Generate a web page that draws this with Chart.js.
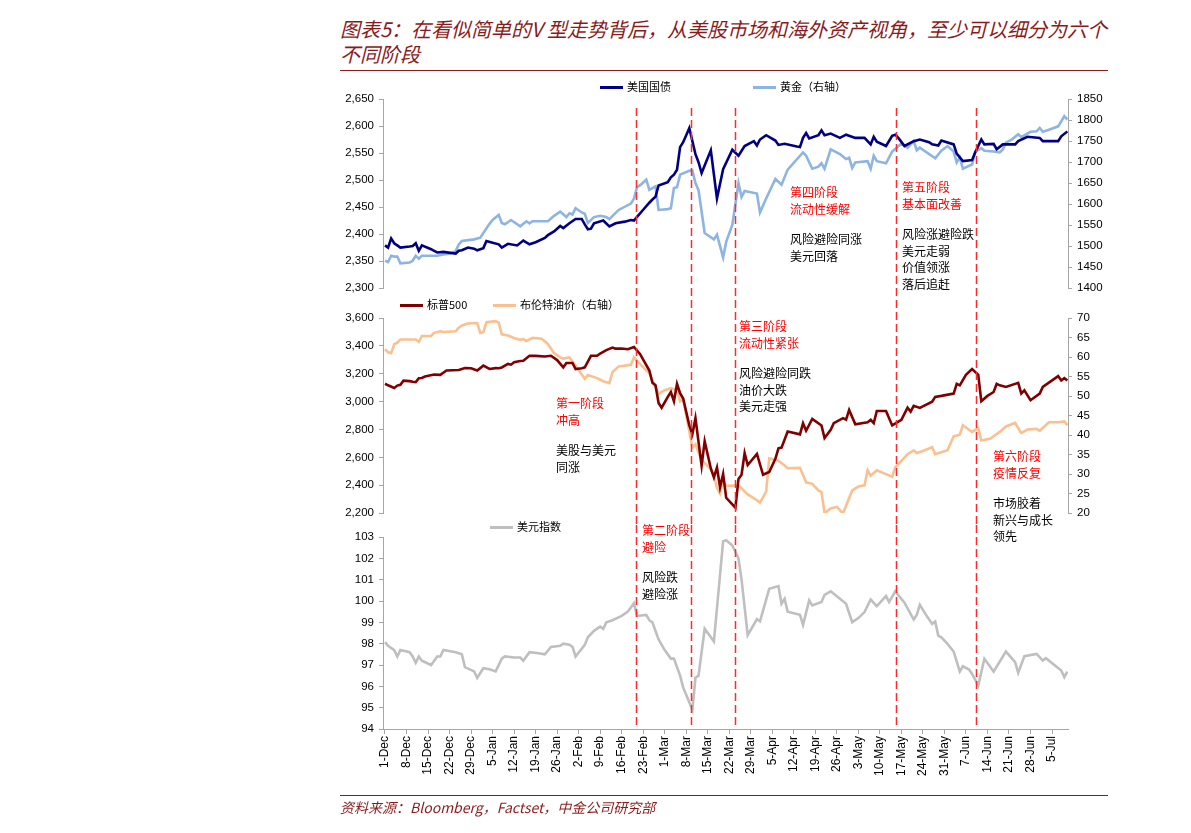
<!DOCTYPE html>
<html><head><meta charset="utf-8">
<script src="https://cdn.jsdelivr.net/npm/chart.js@4.4.1/dist/chart.umd.min.js"></script>
<style>
body{margin:0;background:#fff;width:1191px;height:833px;position:relative;overflow:hidden;font-family:"Noto Sans CJK SC","Liberation Sans",sans-serif;}
.box{position:absolute;left:0;width:1191px;}
.title{position:absolute;left:340px;top:16px;font-size:20px;line-height:25px;color:#8B1A1A;font-style:italic;white-space:nowrap;}
.rule{position:absolute;left:340px;width:768px;height:0;border-top:1.5px solid #8B1A1A;}
.src{position:absolute;left:340px;top:797px;font-size:14px;color:#8B1A1A;font-style:italic;white-space:nowrap;}
.lg{position:absolute;font-size:11px;line-height:14px;color:#000;white-space:nowrap;}
.lg i{display:inline-block;width:23px;height:3px;vertical-align:middle;margin-right:4px;position:relative;top:-1px;}
.ann{position:absolute;font-size:12px;line-height:16.5px;white-space:nowrap;}
.red{color:#FF0000;}
.blk{color:#000;}
</style></head>
<body>
<div class="title">图表5：在看似简单的V 型走势背后，从美股市场和海外资产视角，至少可以细分为六个<br>不同阶段</div>
<div class="rule" style="top:70px"></div>
<div class="box" style="top:75px;height:225px"><canvas id="k1"></canvas></div>
<div class="box" style="top:300px;height:225px"><canvas id="k2"></canvas></div>
<div class="box" style="top:525px;height:275px"><canvas id="k3"></canvas></div>
<div class="rule" style="top:795px"></div>
<div class="src">资料来源：Bloomberg，Factset，中金公司研究部</div>

<div class="lg" style="left:600px;top:79px"><i style="background:#000080"></i>美国国债</div>
<div class="lg" style="left:753px;top:79px"><i style="background:#8DB4E2"></i>黄金（右轴）</div>
<div class="lg" style="left:400px;top:297px"><i style="background:#800000"></i>标普500</div>
<div class="lg" style="left:493px;top:297px"><i style="background:#FAC090"></i>布伦特油价（右轴）</div>
<div class="lg" style="left:490px;top:519px"><i style="background:#BFBFBF"></i>美元指数</div>

<div class="ann" style="left:556px;top:395px"><div class="red">第一阶段<br>冲高</div><div class="blk" style="margin-top:14px">美股与美元<br>同涨</div></div>
<div class="ann" style="left:642px;top:522px"><div class="red">第二阶段<br>避险</div><div class="blk" style="margin-top:14px">风险跌<br>避险涨</div></div>
<div class="ann" style="left:739px;top:318px"><div class="red">第三阶段<br>流动性紧张</div><div class="blk" style="margin-top:14px">风险避险同跌<br>油价大跌<br>美元走强</div></div>
<div class="ann" style="left:790px;top:184px"><div class="red">第四阶段<br>流动性缓解</div><div class="blk" style="margin-top:14px">风险避险同涨<br>美元回落</div></div>
<div class="ann" style="left:902px;top:179px"><div class="red">第五阶段<br>基本面改善</div><div class="blk" style="margin-top:14px">风险涨避险跌<br>美元走弱<br>价值领涨<br>落后追赶</div></div>
<div class="ann" style="left:993px;top:448px"><div class="red">第六阶段<br>疫情反复</div><div class="blk" style="margin-top:14px">市场胶着<br>新兴与成长<br>领先</div></div>

<script>
// ---- data (x = days since 1-Dec-2019) ----
const weekTicks = [0,7,14,21,28,35,42,49,56,63,70,77,84,91,98,105,112,119,126,133,140,147,154,161,168,175,182,189,196,203,210,217];
const weekLabels = ['1-Dec','8-Dec','15-Dec','22-Dec','29-Dec','5-Jan','12-Jan','19-Jan','26-Jan','2-Feb','9-Feb','16-Feb','23-Feb','1-Mar','8-Mar','15-Mar','22-Mar','29-Mar','5-Apr','12-Apr','19-Apr','26-Apr','3-May','10-May','17-May','24-May','31-May','7-Jun','14-Jun','21-Jun','28-Jun','5-Jul'];
const phaseDays = [81.6, 99.7, 113.8, 166.2, 192.4];

const treasuryDays = [0,1,2,3,4,5,8,9,10,11,12,15,16,17,19,23,24,25,27,29,30,32,33,35,37,38,40,43,45,47,49,52,53,55,57,58,60,62,64,65,66,67,68,71,73,75,78,80,81,82,84,86,87,88,89,92,93,94,95,96,97,99,101,102,103,106,108,110,113,115,117,120,121,122,124,127,128,130,134,135,136,137,138,141,142,143,145,148,150,153,156,158,159,160,163,165,166,167,169,172,174,177,178,180,181,185,186,188,191,192,194,195,198,199,201,205,206,209,213,214,219,220,222];
const treasuryVals = [2379,2375,2392,2383,2379,2375,2377,2378,2383,2369,2379,2372,2369,2366,2367,2364,2369,2370,2375,2373,2370,2374,2387,2384,2381,2375,2382,2379,2388,2381,2385,2393,2398,2405,2415,2411,2420,2428,2428,2418,2409,2410,2420,2425,2414,2420,2423,2426,2425,2432,2445,2458,2464,2469,2490,2496,2505,2510,2519,2561,2570,2596,2548,2533,2513,2555,2466,2520,2556,2545,2563,2572,2564,2575,2583,2573,2565,2567,2562,2561,2578,2587,2577,2583,2592,2583,2586,2578,2584,2578,2578,2566,2580,2571,2563,2582,2584,2578,2563,2572,2575,2570,2566,2564,2573,2566,2549,2535,2537,2551,2575,2566,2567,2557,2566,2566,2572,2580,2578,2572,2572,2581,2590];

const goldDays = [0,1,2,3,4,5,8,9,10,11,12,17,19,21,23,24,25,29,31,32,34,35,37,38,39,41,44,46,47,48,53,55,57,59,60,61,62,64,65,66,68,70,72,73,76,80,81,82,83,85,86,88,89,92,93,94,95,96,99,100,101,102,104,107,108,110,111,113,115,116,117,121,122,124,127,129,131,136,137,139,141,142,143,145,148,150,151,152,153,157,158,159,160,163,165,168,170,172,173,174,179,181,183,185,186,187,188,191,192,194,195,198,200,201,202,204,206,207,210,212,213,214,216,219,221,222];
const goldVals = [1465,1462,1477,1475,1475,1459,1461,1465,1477,1470,1477,1477,1480,1482,1488,1504,1512,1516,1520,1531,1553,1562,1574,1555,1552,1562,1547,1559,1554,1559,1559,1572,1582,1569,1578,1575,1590,1580,1577,1555,1569,1572,1569,1564,1586,1601,1613,1640,1645,1658,1634,1642,1586,1588,1590,1638,1640,1670,1679,1680,1650,1633,1531,1516,1527,1473,1510,1551,1650,1617,1631,1625,1580,1613,1660,1646,1682,1723,1715,1684,1689,1697,1684,1730,1719,1707,1710,1686,1699,1702,1684,1715,1702,1697,1725,1744,1734,1750,1728,1734,1709,1727,1738,1725,1699,1711,1684,1694,1725,1733,1727,1725,1723,1730,1746,1754,1766,1759,1772,1773,1781,1772,1777,1785,1809,1801];

const spxDays = [0,1,3,4,5,6,8,9,10,11,12,13,16,18,20,24,26,28,30,32,34,36,37,38,40,41,42,44,45,47,49,52,54,56,58,59,61,62,64,65,67,69,70,72,74,75,77,79,81,83,86,87,88,89,90,92,93,94,95,96,97,99,100,101,103,104,106,107,108,109,110,111,114,115,116,117,118,121,123,125,127,128,129,131,135,136,137,139,142,143,145,146,149,150,151,153,157,158,159,160,163,165,168,170,171,172,174,178,179,181,185,186,187,189,191,193,194,196,198,199,200,202,206,207,208,210,213,214,219,220,221,222];
const spxVals = [3128,3117,3098,3115,3121,3150,3147,3142,3140,3168,3170,3180,3194,3192,3223,3227,3241,3239,3223,3258,3234,3240,3239,3245,3270,3265,3282,3291,3293,3329,3328,3324,3329,3298,3246,3277,3277,3234,3240,3246,3329,3329,3345,3370,3388,3380,3381,3376,3392,3340,3223,3135,3117,2990,2956,3034,3069,3003,3128,3060,3022,2830,2767,2881,2540,2716,2520,2456,2527,2386,2480,2310,2239,2445,2475,2630,2545,2625,2475,2495,2590,2665,2670,2786,2765,2845,2791,2876,2829,2739,2798,2845,2881,2870,2940,2838,2852,2869,2845,2933,2933,2829,2869,2956,2928,2970,2955,2999,3034,3041,3058,3128,3117,3192,3234,3192,3003,3041,3069,3128,3117,3105,3135,3058,3081,3010,3058,3105,3183,3152,3168,3152];

const brentDays = [0,1,2,3,4,5,10,11,12,15,16,18,19,23,24,25,27,30,31,32,33,36,37,38,40,42,44,45,46,48,51,53,55,57,58,60,62,65,66,69,71,73,74,76,80,81,83,86,89,91,93,95,96,97,100,101,103,106,107,108,109,110,111,115,118,121,122,124,125,128,130,131,135,137,139,141,142,143,145,147,149,152,154,156,157,158,160,163,165,166,168,170,172,173,175,178,179,183,185,187,188,191,193,194,197,198,200,202,205,207,209,212,213,216,219,221,222];
const brentVals = [62,61.2,61,63.3,63.7,64.5,64.5,63.9,65.4,65.4,66.2,66.6,66.4,66.6,67.5,68.1,68.6,68.7,66.2,66.4,68.9,69.2,68.8,65.8,65.5,64.9,64.4,64.6,64.1,64.9,64.7,63.3,61,59.9,59.6,59.9,57.8,54.4,55.4,54.6,53.8,53.3,56.1,57.6,58,59.9,58.2,55.8,50.6,51.5,52,51.5,48.7,49.2,36.8,37.6,33.6,31.3,29.6,26.5,25,28.4,27,27.1,24.8,23.3,22.7,25.5,34,33.4,32.2,31.5,31.6,27.9,27.5,25.8,25.4,20,21.2,21.6,19.9,25.8,26.8,27.1,31,29.6,31,30,29.3,31.7,33.4,35.1,36.1,35.4,35.9,36.9,35.1,36.1,39.7,40.1,42.5,40.8,41.8,38.6,39.1,39.7,40.8,42.2,43.1,40.5,41.4,41.6,41.1,43.3,43.3,43.5,42.5];

const dxyDays = [0,1,3,4,5,8,9,10,11,12,15,17,18,19,23,25,26,29,30,32,34,36,38,39,42,44,45,47,50,52,54,57,58,60,61,62,65,66,68,70,71,72,74,77,79,81,82,85,86,87,89,91,93,94,96,97,100,101,102,104,107,110,111,113,115,116,118,121,122,125,128,129,130,131,135,136,138,139,142,143,145,146,150,152,154,156,158,160,163,164,166,169,172,173,174,176,178,179,180,181,183,185,187,188,190,191,193,195,198,202,205,206,208,212,214,215,220,221,222];
const dxyVals = [98.07,97.9,97.7,97.4,97.7,97.6,97.4,97.1,97.4,97.2,97.0,97.4,97.4,97.7,97.6,97.5,96.9,96.7,96.4,96.85,96.8,96.7,97.3,97.4,97.35,97.35,97.2,97.6,97.55,97.5,97.85,97.9,98.0,97.95,97.85,97.4,97.95,98.3,98.6,98.8,98.7,99.0,99.1,99.3,99.5,99.9,99.3,99.35,99.1,99.0,98.2,97.7,97.3,97.3,96.5,95.95,94.9,96.4,96.5,98.7,98.1,102.8,102.85,102.6,102.0,101.0,98.4,99.15,99.05,100.57,100.7,99.87,100.1,99.5,99.35,98.88,100.03,99.79,99.95,100.29,100.45,100.34,99.87,99.01,99.2,99.48,100.07,99.76,100.23,99.95,100.45,99.92,99.13,99.35,99.82,99.35,98.93,99.04,98.38,98.3,97.99,97.63,96.69,96.94,96.79,96.58,96.04,97.29,96.69,97.63,97.13,96.63,97.41,97.52,97.21,97.32,96.74,96.43,96.69];

// ---- helpers ----
const pts = (d, v) => d.map((x, i) => ({x, y: v[i]}));
const X_MIN = -0.65, X_MAX = 222.2;
const CANVAS_W = 1191, AXIS_L = 383, AXIS_R = 1068;
const numFont = {family: 'Liberation Sans, Arial, sans-serif', size: 11.5};
const axisGray = '#A6A6A6';

function yAxis(pos, min, max, step, fmt) {
  return {
    position: pos, min, max,
    ticks: {stepSize: step, color: '#000', font: numFont, padding: 5, callback: fmt},
    grid: {drawOnChartArea: false, drawTicks: true, tickLength: 4, color: axisGray},
    border: {display: true, color: axisGray, width: 1},
    afterFit: s => { s.width = pos === 'left' ? AXIS_L : CANVAS_W - AXIS_R; }
  };
}
const comma = v => v.toLocaleString('en-US');
const plain = v => String(v);

function phasePlugin(topY, toAxis) {
  return {
    id: 'phases',
    afterDatasetsDraw(chart) {
      const {ctx, scales: {x}, chartArea} = chart;
      const bottom = toAxis ? chartArea.bottom : chart.height;
      ctx.save();
      ctx.strokeStyle = '#FF2A2A';
      ctx.lineWidth = 1.5;
      ctx.setLineDash([8, 4]);
      phaseDays.forEach(d => {
        const px = Math.round(x.getPixelForValue(d)) + 0.5;
        ctx.beginPath(); ctx.moveTo(px, topY); ctx.lineTo(px, bottom); ctx.stroke();
      });
      ctx.restore();
    }
  };
}

function lineDs(label, d, v, color, axis) {
  return {label, data: pts(d, v), borderColor: color, backgroundColor: color, borderWidth: 2.6,
    pointRadius: 0, tension: 0, yAxisID: axis};
}

const common = {
  responsive: true, maintainAspectRatio: false, animation: false,
  plugins: {legend: {display: false}, tooltip: {enabled: false}},
  events: []
};
const hiddenX = {type: 'linear', display: false, min: X_MIN, max: X_MAX};

new Chart(document.getElementById('k1'), {
  type: 'line',
  data: {datasets: [
    lineDs('美国国债', treasuryDays, treasuryVals, '#000080', 'y'),
    lineDs('黄金（右轴）', goldDays, goldVals, '#8DB4E2', 'y1')
  ]},
  options: Object.assign({}, common, {
    layout: {padding: {top: 24, bottom: 9, left: 0, right: 0}},
    scales: {x: hiddenX, y: yAxis('left', 2300, 2650, 50, comma), y1: yAxis('right', 1400, 1850, 50, plain)}
  }),
  plugins: [phasePlugin(33, false)]
});

new Chart(document.getElementById('k2'), {
  type: 'line',
  data: {datasets: [
    lineDs('标普500', spxDays, spxVals, '#800000', 'y'),
    lineDs('布伦特油价（右轴）', brentDays, brentVals, '#FAC090', 'y1')
  ]},
  options: Object.assign({}, common, {
    layout: {padding: {top: 18, bottom: 9, left: 0, right: 0}},
    scales: {x: hiddenX, y: yAxis('left', 2200, 3600, 200, comma), y1: yAxis('right', 20, 70, 5, plain)}
  }),
  plugins: [phasePlugin(0, false)]
});

new Chart(document.getElementById('k3'), {
  type: 'line',
  data: {datasets: [
    lineDs('美元指数', dxyDays, dxyVals, '#BFBFBF', 'y')
  ]},
  options: Object.assign({}, common, {
    layout: {padding: {top: 12, bottom: 4, left: 0, right: CANVAS_W - AXIS_R}},
    scales: {
      x: {type: 'linear', min: X_MIN, max: X_MAX,
        afterBuildTicks: s => { s.ticks = weekTicks.map(v => ({value: v})); },
        ticks: {autoSkip: false, minRotation: 90, maxRotation: 90, color: '#000', font: {family: 'Liberation Sans, Arial, sans-serif', size: 12}, padding: 2,
          callback: (v) => { const i = weekTicks.indexOf(v); return i >= 0 ? weekLabels[i] : ''; }},
        grid: {drawOnChartArea: false, drawTicks: true, tickLength: 5, color: axisGray},
        border: {display: true, color: axisGray},
        afterFit: s => { s.height = 67; }
      },
      y: yAxis('left', 94, 103, 1, plain)
    }
  }),
  plugins: [phasePlugin(0, true)]
});
</script>
</body></html>
